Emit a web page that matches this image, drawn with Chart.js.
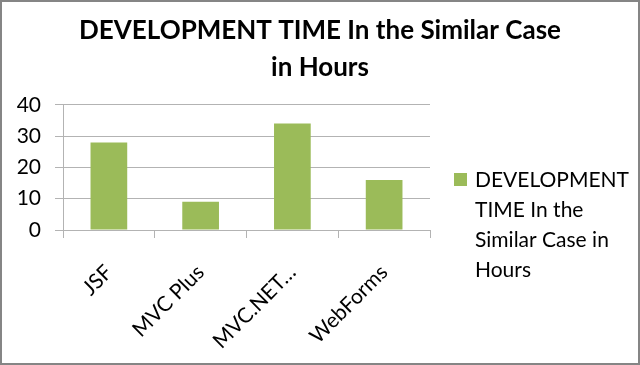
<!DOCTYPE html>
<html>
<head>
<meta charset="utf-8">
<script src="https://cdn.jsdelivr.net/npm/chart.js@4.4.1/dist/chart.umd.min.js"></script>
<style>
  html, body { margin: 0; padding: 0; background: #fff; }
  #wrap { width: 640px; height: 365px; position: relative; }
</style>
</head>
<body>
<div id="wrap"><canvas id="chart"></canvas></div>
<script>
/* ---- Data ---------------------------------------------------------------- */

const categories = ["JSF", "MVC Plus", "MVC.NET…", "WebForms"];
const hours = [28, 9, 34, 16];
const yTicks = [0, 10, 20, 30, 40];
const titleLines = ["DEVELOPMENT TIME In the Similar Case", "in Hours"];
const seriesName = "DEVELOPMENT TIME In the Similar Case in Hours";
const legendLines = ["DEVELOPMENT", "TIME In the", "Similar Case in", "Hours"];

/* ---- Look ---------------------------------------------------------------- */

const FONT = "Lato, 'Open Sans', sans-serif";
const barColor = "#9bbb59";
const gridColor = "#b3b3b3";
const textColor = "#000000";
const legendWidth = 210;

// thin grey frame round the whole picture
const frame = {
  id: "frame",
  afterDraw(chart) {
    const { ctx, width, height } = chart;
    ctx.save();
    ctx.strokeStyle = "#858585";
    ctx.lineWidth = 2;
    ctx.strokeRect(1, 1, width - 2, height - 2);
    ctx.restore();
  },
};

// Legend as its own layout box on the right: fixed width, text wrapped
// over several lines like the original, title stays centred on the canvas.
const sideLegend = {
  id: "sideLegend",
  beforeInit(chart) {
    const box = {
      position: "right",
      fullSize: true,
      weight: 0,
      options: {},
      width: 0,
      height: 0,
      top: 0,
      bottom: 0,
      left: 0,
      right: 0,
      isHorizontal() {
        return false;
      },
      update(maxWidth, maxHeight) {
        this.width = legendWidth;
        this.height = maxHeight;
      },
      draw() {
        const ctx = chart.ctx;
        const x = this.left + 24;
        const y = this.top + 173;
        ctx.save();
        ctx.fillStyle = chart.data.datasets[0].backgroundColor;
        ctx.fillRect(x, y, 13, 13);
        ctx.fillStyle = textColor;
        ctx.font = "21px " + FONT;
        ctx.textBaseline = "alphabetic";
        ctx.textAlign = "left";
        legendLines.forEach((line, i) => {
          ctx.fillText(line, x + 21, y + 13.5 + i * 30);
        });
        ctx.restore();
      },
    };
    chart.sideLegendBox = box;
    Chart.layouts.addBox(chart, box);
  },
};

new Chart(document.getElementById("chart"), {
  type: "bar",
  data: {
    labels: categories,
    datasets: [
      {
        label: seriesName,
        data: hours,
        backgroundColor: barColor,
        borderWidth: 0,
        barPercentage: 0.4,
        categoryPercentage: 1,
      },
    ],
  },
  options: {
    responsive: true,
    maintainAspectRatio: false,
    animation: false,
    plugins: {
      title: {
        display: true,
        text: titleLines,
        color: textColor,
        font: { family: FONT, size: 26, weight: "bold", lineHeight: 1.42 },
        padding: { top: 12, bottom: 19 },
      },
      legend: { display: false },
      tooltip: { enabled: false },
    },
    scales: {
      x: {
        grid: {
          display: true,
          drawOnChartArea: false,
          drawTicks: true,
          tickLength: 8,
          color: gridColor,
          offset: true,
        },
        border: { color: gridColor },
        ticks: {
          color: textColor,
          font: { family: FONT, size: 21 },
          minRotation: 45,
          maxRotation: 45,
          autoSkip: false,
          padding: 22,
        },
        afterFit: (s) => {
          s.height = 135;
        },
      },
      y: {
        min: yTicks[0],
        max: yTicks[yTicks.length - 1],
        grid: { color: gridColor, tickLength: 8 },
        border: { color: gridColor },
        ticks: {
          stepSize: yTicks[1] - yTicks[0],
          color: textColor,
          font: { family: FONT, size: 21 },
          padding: 14,
        },
        afterFit: (s) => {
          s.width = 63;
        },
      },
    },
  },
  plugins: [frame, sideLegend],
});
</script>
</body>
</html>
